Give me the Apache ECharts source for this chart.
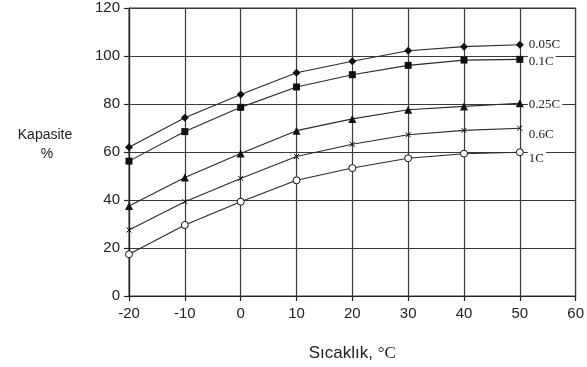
<!DOCTYPE html>
<html>
<head>
<meta charset="utf-8">
<script src="https://cdn.jsdelivr.net/npm/echarts@6/dist/echarts.min.js"></script>
<style>
html,body{margin:0;padding:0;background:#fff;}
#c{width:587px;height:367px;}
</style>
</head>
<body>
<div id="c"></div>
<script>
var temps = [-20, -10, 0, 10, 20, 30, 40, 50];
var c005 = [62, 74.3, 84, 93, 97.8, 102.2, 103.9, 104.7];
var c01  = [56.2, 68.5, 78.6, 87.1, 92.2, 96.1, 98.3, 98.6];
var c025 = [37.5, 49.4, 59.4, 68.9, 73.8, 77.6, 79, 80.3];
var c06  = [27.5, 39.3, 49, 58.1, 63.2, 67.2, 69, 69.9];
var c1   = [17.4, 29.6, 39.3, 48.2, 53.3, 57.4, 59.3, 59.9];
var xTicks = [-20, -10, 0, 10, 20, 30, 40, 50, 60];
var yTicks = [0, 20, 40, 60, 80, 100, 120];

function pairs(v){ return temps.map(function(t,i){ return [t, v[i]]; }); }

var lineCol = '#2a2a2a';
function mk(name, vals, symbol, size, filled, off){
  return {
    name: name, type: 'line', data: pairs(vals),
    symbol: symbol, symbolSize: size,
    lineStyle: {color: lineCol, width: 1.1},
    itemStyle: filled ? {color: '#111', borderColor:'#111', borderWidth: 0}
                      : {color: '#fff', borderColor: '#111', borderWidth: 1},
    endLabel: {show: true, formatter: '{a}', distance: 8, offset: off,
      fontFamily: 'Liberation Serif', fontSize: 13, color: '#222',
      backgroundColor: '#fff', padding: [2, 2, 2, 1]},
    emphasis: {disabled: true}, z: 3
  };
}

var chart = echarts.init(document.getElementById('c'));
chart.setOption({
  animation: false,
  backgroundColor: '#fff',
  grid: {left: 129, right: 11, top: 8, bottom: 71, show: true, borderColor: '#333', borderWidth: 1},
  xAxis: {
    type: 'value', min: xTicks[0], max: xTicks[xTicks.length-1], interval: 10,
    axisLine: {show: true, onZero: false, lineStyle: {color: '#222', width: 1.2}},
    axisTick: {show: true, length: 5, lineStyle: {color: '#222', width: 1.2}},
    axisLabel: {color: '#222', fontFamily: 'Liberation Sans', fontSize: 15, margin: 10},
    splitLine: {show: true, lineStyle: {color: '#3a3a3a', width: 1.2}},
    name: 'Sıcaklık, {s|°C}', nameLocation: 'middle', nameGap: 49,
    nameTextStyle: {color: '#222', fontFamily: 'Liberation Sans', fontSize: 17,
      rich: {s: {fontFamily: 'Liberation Serif', fontSize: 17, color: '#222'}}}
  },
  yAxis: {
    type: 'value', min: yTicks[0], max: yTicks[yTicks.length-1], interval: 20,
    axisLine: {show: true, onZero: false, lineStyle: {color: '#222', width: 1.2}},
    axisTick: {show: true, length: 5, lineStyle: {color: '#222', width: 1.2}},
    axisLabel: {color: '#222', fontFamily: 'Liberation Sans', fontSize: 15, margin: 9},
    splitLine: {show: true, lineStyle: {color: '#3a3a3a', width: 1.2}}
  },
  graphic: [
    {type: 'text', style: {text: 'Kapasite', font: '14px "Liberation Sans"', fill: '#222', x: 45, y: 135, textAlign: 'center', textVerticalAlign: 'middle'}},
    {type: 'text', style: {text: '%', font: '14px "Liberation Sans"', fill: '#222', x: 47, y: 154, textAlign: 'center', textVerticalAlign: 'middle'}}
  ],
  series: [
    mk('0.05C', c005, 'diamond', 8, true, [0, 0]),
    mk('0.1C', c01, 'rect', 7, true, [0, 2]),
    mk('0.25C', c025, 'triangle', 8, true, [0, 1]),
    mk('0.6C', c06, 'path://M0,0L10,10M0,10L10,0', 5, false, [0, 6]),
    mk('1C', c1, 'circle', 7, false, [0, 6])
  ]
});
</script>
</body>
</html>
